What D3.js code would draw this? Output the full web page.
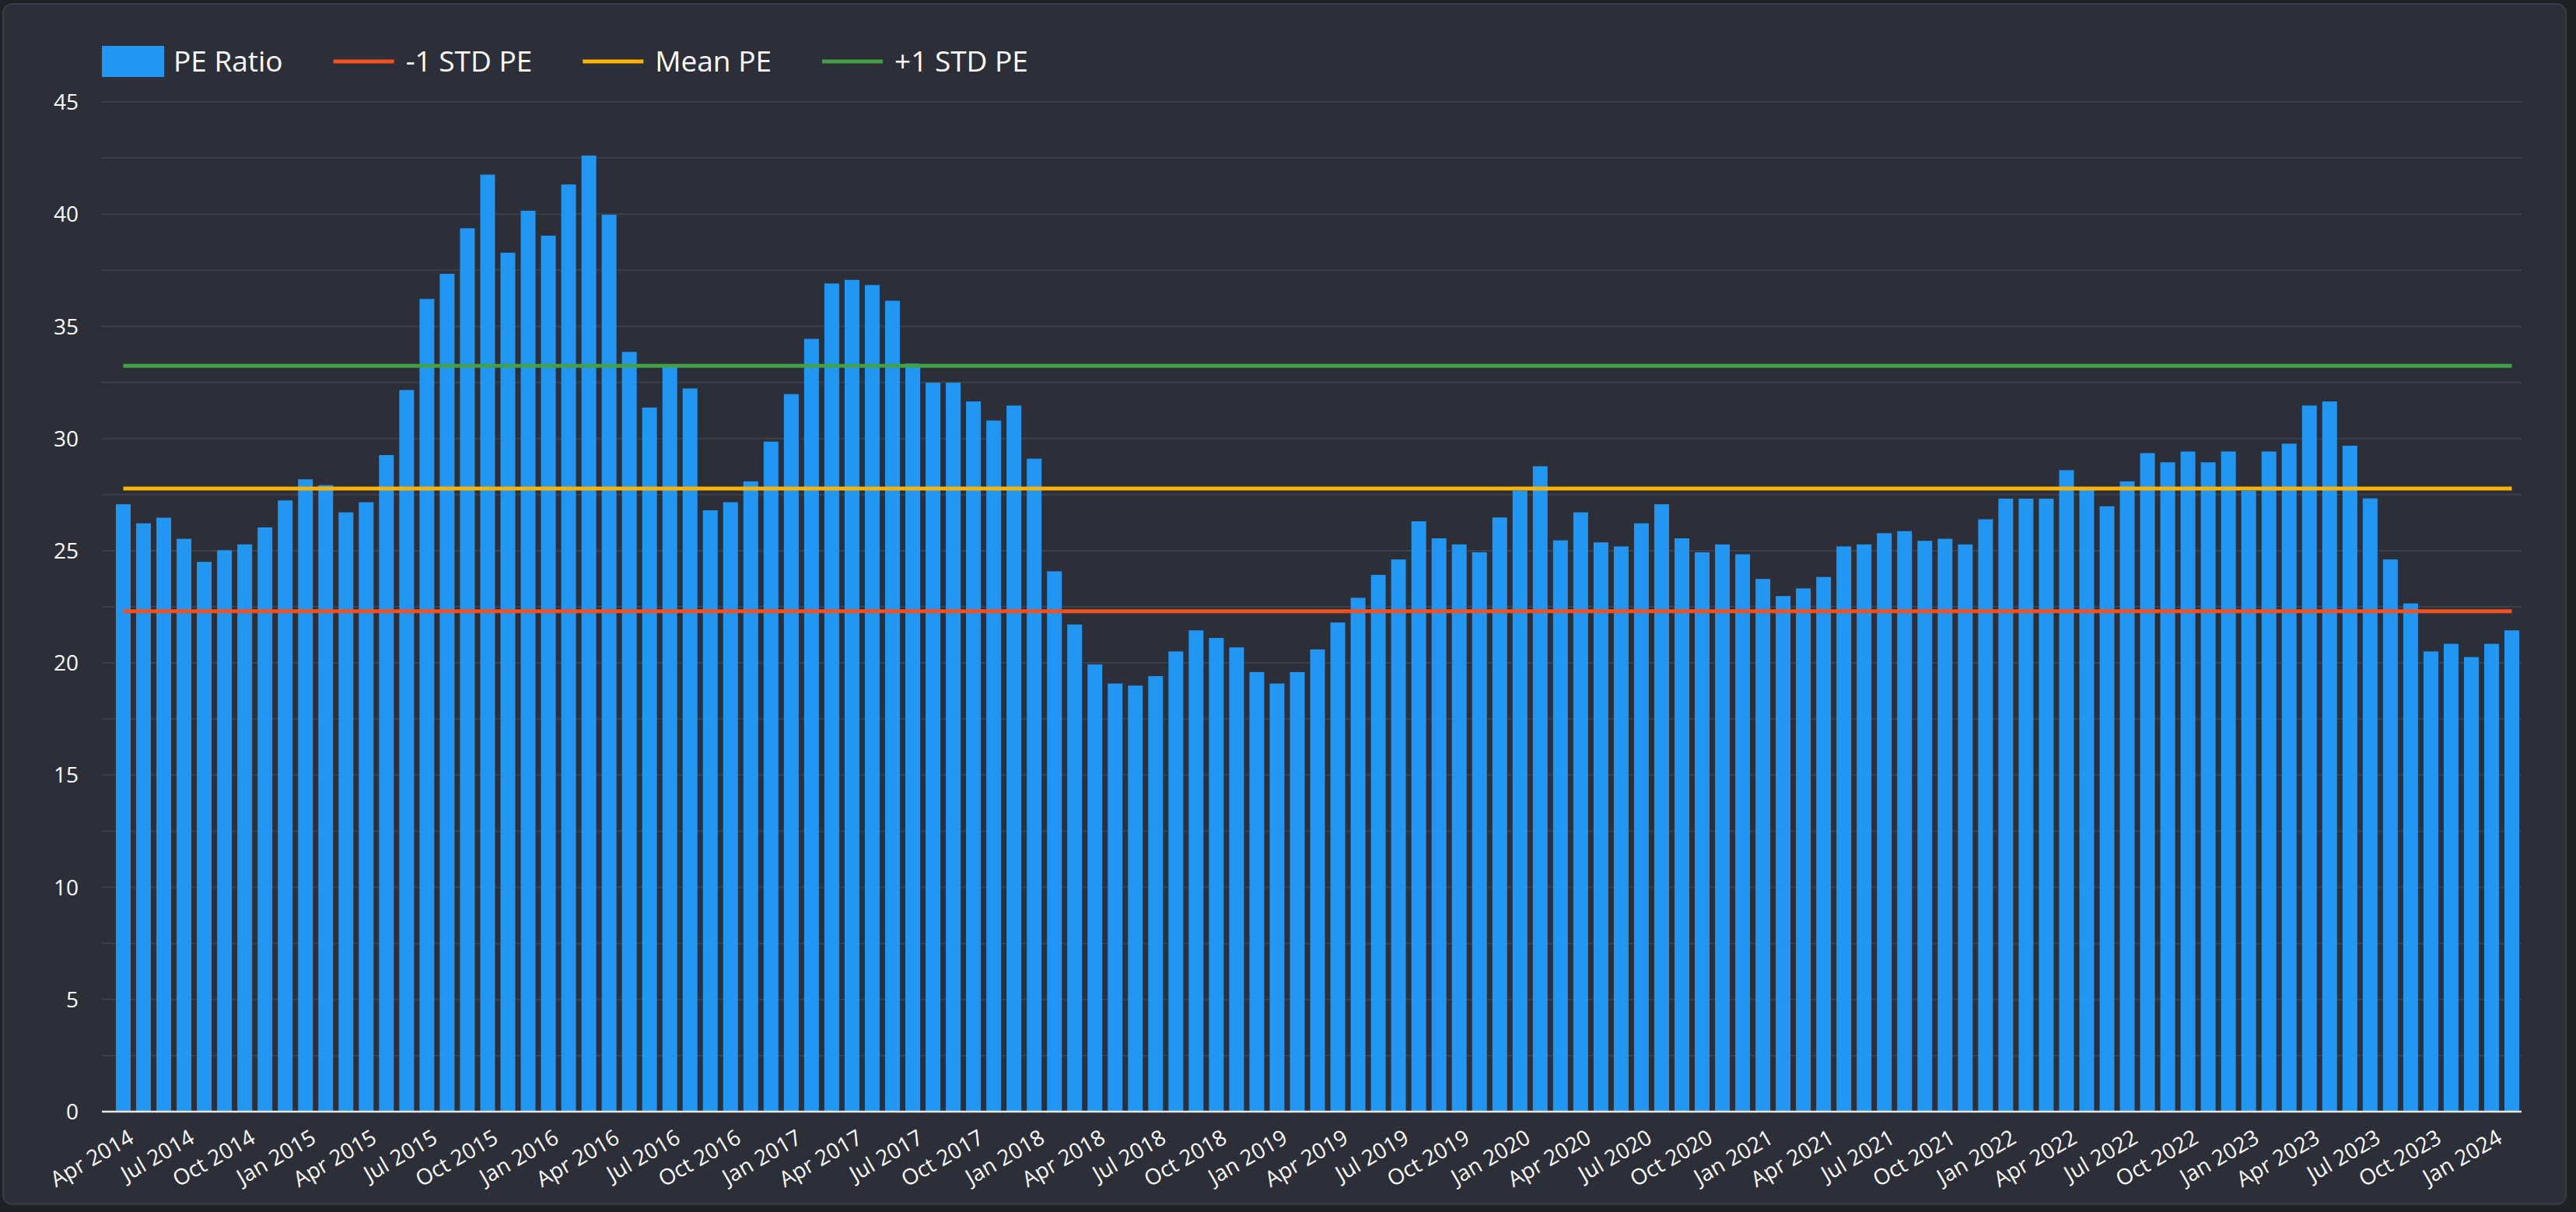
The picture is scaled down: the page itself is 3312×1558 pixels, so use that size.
<!DOCTYPE html>
<html><head><meta charset="utf-8">
<script src="https://cdn.jsdelivr.net/npm/d3@7"></script>
<style>
html,body{margin:0;padding:0;background:#202124;}
svg{display:block;}
text{font-family:"Open Sans",sans-serif;}
</style></head><body>
<svg id="chart" width="3312" height="1558"></svg>
<script>
// ---- data ----
const months = [
 "Apr 2014","May 2014","Jun 2014","Jul 2014","Aug 2014","Sep 2014","Oct 2014","Nov 2014","Dec 2014",
 "Jan 2015","Feb 2015","Mar 2015","Apr 2015","May 2015","Jun 2015","Jul 2015","Aug 2015","Sep 2015","Oct 2015","Nov 2015","Dec 2015",
 "Jan 2016","Feb 2016","Mar 2016","Apr 2016","May 2016","Jun 2016","Jul 2016","Aug 2016","Sep 2016","Oct 2016","Nov 2016","Dec 2016",
 "Jan 2017","Feb 2017","Mar 2017","Apr 2017","May 2017","Jun 2017","Jul 2017","Aug 2017","Sep 2017","Oct 2017","Nov 2017","Dec 2017",
 "Jan 2018","Feb 2018","Mar 2018","Apr 2018","May 2018","Jun 2018","Jul 2018","Aug 2018","Sep 2018","Oct 2018","Nov 2018","Dec 2018",
 "Jan 2019","Feb 2019","Mar 2019","Apr 2019","May 2019","Jun 2019","Jul 2019","Aug 2019","Sep 2019","Oct 2019","Nov 2019","Dec 2019",
 "Jan 2020","Feb 2020","Mar 2020","Apr 2020","May 2020","Jun 2020","Jul 2020","Aug 2020","Sep 2020","Oct 2020","Nov 2020","Dec 2020",
 "Jan 2021","Feb 2021","Mar 2021","Apr 2021","May 2021","Jun 2021","Jul 2021","Aug 2021","Sep 2021","Oct 2021","Nov 2021","Dec 2021",
 "Jan 2022","Feb 2022","Mar 2022","Apr 2022","May 2022","Jun 2022","Jul 2022","Aug 2022","Sep 2022","Oct 2022","Nov 2022","Dec 2022",
 "Jan 2023","Feb 2023","Mar 2023","Apr 2023","May 2023","Jun 2023","Jul 2023","Aug 2023","Sep 2023","Oct 2023","Nov 2023","Dec 2023",
 "Jan 2024","Feb 2024"
];
const peRatio = [
 27.07,26.22,26.47,25.53,24.50,25.02,25.28,26.04,27.24,
 28.18,27.92,26.71,27.16,29.26,32.16,36.22,37.34,39.37,41.76,38.28,40.15,
 39.04,41.32,42.61,39.97,33.86,31.38,33.22,32.23,26.80,27.16,28.09,29.86,
 31.98,34.44,36.91,37.07,36.84,36.14,33.34,32.49,32.49,31.65,30.80,31.47,
 29.10,24.08,21.71,19.93,19.08,18.99,19.41,20.51,21.45,21.11,20.69,19.59,
 19.08,19.59,20.60,21.80,22.90,23.92,24.61,26.31,25.55,25.28,24.93,26.48,
 27.67,28.76,25.46,26.71,25.37,25.19,26.22,27.07,25.55,24.93,25.28,24.84,
 23.74,22.98,23.32,23.83,25.19,25.28,25.78,25.87,25.44,25.53,25.28,26.40,
 27.32,27.32,27.32,28.59,27.74,26.98,28.09,29.35,28.94,29.42,28.94,29.42,
 27.67,29.42,29.77,31.47,31.65,29.68,27.33,24.61,22.65,20.51,20.85,20.26,
 20.85,21.45
];
const stdMinusPE = 22.30;
const meanPE = 27.77;
const stdPlusPE = 33.24;
const tickLabels = [
 "Apr 2014","Jul 2014","Oct 2014","Jan 2015","Apr 2015","Jul 2015","Oct 2015","Jan 2016","Apr 2016",
 "Jul 2016","Oct 2016","Jan 2017","Apr 2017","Jul 2017","Oct 2017","Jan 2018","Apr 2018","Jul 2018",
 "Oct 2018","Jan 2019","Apr 2019","Jul 2019","Oct 2019","Jan 2020","Apr 2020","Jul 2020","Oct 2020",
 "Jan 2021","Apr 2021","Jul 2021","Oct 2021","Jan 2022","Apr 2022","Jul 2022","Oct 2022","Jan 2023",
 "Apr 2023","Jul 2023","Oct 2023","Jan 2024"
];
const yTickValues = [0,5,10,15,20,25,30,35,40,45];
const yGridValues = [0,2.5,5,7.5,10,12.5,15,17.5,20,22.5,25,27.5,30,32.5,35,37.5,40,42.5,45];
const legendNames = ["PE Ratio","-1 STD PE","Mean PE","+1 STD PE"];
const refLines = [
  {name:"-1 STD PE", value: stdMinusPE, color:"#f4511e"},
  {name:"Mean PE", value: meanPE, color:"#ffb300"},
  {name:"+1 STD PE", value: stdPlusPE, color:"#43a047"}
];
const barColor = "#2196f3";

// ---- layout ----
const W = 3312, H = 1558;
const plotLeft = 131, plotRight = 3242, plotTop = 131, plotBottom = 1429;
const svg = d3.select("#chart");

svg.append("rect").attr("x",0).attr("y",0).attr("width",W).attr("height",H).attr("fill","#202124");
svg.append("rect").attr("x",4).attr("y",5).attr("width",3295).attr("height",1543)
  .attr("rx",12).attr("fill","#2c2f38").attr("stroke","#3a3d45").attr("stroke-width",2);

const step = 26.025, pin = 0.27, pout = 0.135;
const x = d3.scaleBand().domain(months)
  .range([149 - step*pout, 3239 + step*pout]).paddingInner(pin).paddingOuter(pout);
const y = d3.scaleLinear().domain([0,45]).range([plotBottom, plotTop]);

// grid
svg.append("g").selectAll("line").data(yGridValues).join("line")
  .attr("x1",plotLeft).attr("x2",plotRight)
  .attr("y1",d=>y(d)).attr("y2",d=>y(d))
  .attr("stroke","#3d4049").attr("stroke-width",2);

// y labels
svg.append("g").selectAll("text").data(yTickValues).join("text")
  .attr("x",101).attr("y",d=>y(d)).attr("dy","0.36em")
  .attr("text-anchor","end").attr("fill","#ffffff").attr("font-size",28)
  .text(d=>d);

// bars
svg.append("g").selectAll("rect").data(peRatio).join("rect")
  .attr("x",(d,i)=>x(months[i])).attr("width",x.bandwidth())
  .attr("y",d=>y(d)).attr("height",d=>y(0)-y(d))
  .attr("fill",barColor);

// axis line
svg.append("line").attr("x1",plotLeft).attr("x2",plotRight)
  .attr("y1",y(0)).attr("y2",y(0)).attr("stroke","#e6e6e6").attr("stroke-width",2.5);

// reference lines
const line = d3.line().x(d=>x(d[0])+x.bandwidth()/2).y(d=>y(d[1]));
refLines.forEach(r=>{
  svg.append("path").datum(months.map(m=>[m,r.value]))
    .attr("d",line).attr("fill","none").attr("stroke",r.color).attr("stroke-width",5);
});

// x labels
svg.append("g").selectAll("text").data(tickLabels).join("text")
  .attr("transform",d=>`translate(${x(d)+x.bandwidth()/2+5},${1450}) rotate(-30)`)
  .attr("text-anchor","end").attr("dy","0.74em")
  .attr("fill","#ffffff").attr("font-size",28)
  .text(d=>d);

// legend
const lg = svg.append("g");
let lx = 131;
const colors = [barColor].concat(refLines.map(r=>r.color));
legendNames.forEach((name,i)=>{
  if(i===0){
    lg.append("rect").attr("x",lx).attr("y",59).attr("width",80).attr("height",40).attr("fill",colors[i]);
  } else {
    lg.append("line").attr("x1",lx).attr("x2",lx+78).attr("y1",79).attr("y2",79)
      .attr("stroke",colors[i]).attr("stroke-width",5);
  }
  const t = lg.append("text").attr("x",lx+(i===0?92:93)).attr("y",92)
    .attr("fill","#ffffff").attr("font-size",37).text(name);
  lx = lx + (i===0?92:93) + t.node().getComputedTextLength() + 65;
});
</script>
</body></html>
